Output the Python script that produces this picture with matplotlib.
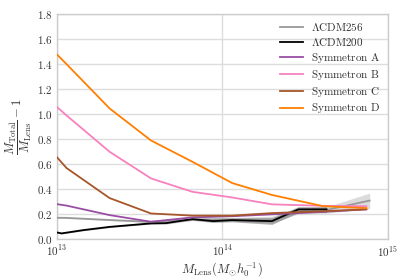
import matplotlib
matplotlib.use("Agg")
import matplotlib.pyplot as plt
import numpy as np
from matplotlib.ticker import FixedLocator, FuncFormatter, NullLocator

plt.rcParams['mathtext.fontset'] = 'cm'
plt.rcParams['font.family'] = ['DejaVu Serif']

# log10 masses
lcdm256_x = [13.0, 13.06, 13.32, 13.57, 13.82, 14.06, 14.30, 14.46, 14.63, 14.89]
lcdm256_y = [0.173, 0.172, 0.155, 0.140, 0.160, 0.160, 0.160, 0.225, 0.235, 0.310]
lcdm256_lo = [0.168, 0.167, 0.150, 0.133, 0.150, 0.145, 0.130, 0.205, 0.210, 0.245]
lcdm256_hi = [0.178, 0.177, 0.160, 0.147, 0.170, 0.175, 0.185, 0.250, 0.260, 0.370]

lcdm200_x = [13.0, 13.03, 13.16, 13.32, 13.57, 13.66, 13.82, 13.945, 14.06, 14.30, 14.46, 14.63]
lcdm200_y = [0.056, 0.048, 0.074, 0.100, 0.128, 0.130, 0.162, 0.146, 0.154, 0.146, 0.240, 0.240]
lcdm200_lo = [0.051, 0.043, 0.069, 0.095, 0.122, 0.123, 0.153, 0.135, 0.140, 0.120, 0.215, 0.215]
lcdm200_hi = [0.061, 0.053, 0.079, 0.105, 0.134, 0.137, 0.171, 0.157, 0.168, 0.172, 0.262, 0.262]

sym_x = [13.0, 13.06, 13.32, 13.57, 13.82, 14.06, 14.30, 14.61, 14.87]
symA_y = [0.282, 0.270, 0.194, 0.141, 0.176, 0.185, 0.200, 0.220, 0.240]
symB_y = [1.060, 0.990, 0.700, 0.487, 0.380, 0.335, 0.280, 0.268, 0.265]
symC_y = [0.660, 0.570, 0.330, 0.207, 0.190, 0.190, 0.210, 0.225, 0.240]
symD_y = [1.480, 1.400, 1.046, 0.790, 0.620, 0.450, 0.355, 0.265, 0.250]

labels = [r'$\Lambda\mathrm{CDM256}$', r'$\Lambda\mathrm{CDM200}$',
          r'$\mathrm{Symmetron\ A}$', r'$\mathrm{Symmetron\ B}$',
          r'$\mathrm{Symmetron\ C}$', r'$\mathrm{Symmetron\ D}$']
colors = ['#999999', '#000000', '#984ea3', '#f781bf', '#a65628', '#ff7f00']

fig = plt.figure(figsize=(4.07, 2.80), dpi=100)
ax = fig.add_axes([0.139, 0.145, 0.814, 0.805])
ax.set_xscale('log')

def m(xs):
    return 10 ** np.array(xs)

ax.fill_between(m(lcdm256_x), lcdm256_lo, lcdm256_hi, color='#999999', alpha=0.35, lw=0, zorder=2)
ax.fill_between(m(lcdm200_x), lcdm200_lo, lcdm200_hi, color='#555555', alpha=0.45, lw=0, zorder=2)
ax.plot(m(lcdm256_x), lcdm256_y, color=colors[0], lw=1.3, label=labels[0], zorder=3)
ax.plot(m(lcdm200_x), lcdm200_y, color=colors[1], lw=1.3, label=labels[1], zorder=3)
for ys, c, l in zip([symA_y, symB_y, symC_y, symD_y], colors[2:], labels[2:]):
    ax.plot(m(sym_x), ys, color=c, lw=1.3, label=l, zorder=3)

ax.set_xlim(1e13, 1e15)
ax.set_ylim(0, 1.8)
ax.xaxis.set_major_locator(FixedLocator([1e13, 1e14, 1e15]))
ax.xaxis.set_minor_locator(NullLocator())
ax.xaxis.set_major_formatter(FuncFormatter(lambda v, p: r'$10^{%d}$' % round(np.log10(v))))
ax.set_yticks(np.arange(0, 1.81, 0.2))
ax.yaxis.set_major_formatter(FuncFormatter(lambda v, p: r'$%.1f$' % v))
ax.tick_params(length=0, labelsize=8, colors='#333333', pad=3)
ax.grid(True, color='#dddddd', lw=1.0, zorder=0)
ax.set_axisbelow(True)
for s in ax.spines.values():
    s.set_color('#cccccc')
    s.set_linewidth(1.0)

ax.set_xlabel(r'$M_{\rm Lens} (M_{\odot} h_0^{-1})$', fontsize=9, color='#333333', labelpad=1)
ax.set_ylabel(r'$\dfrac{M_{\rm Total}}{M_{\rm Lens}} - 1$', fontsize=9, color='#333333', labelpad=2)

leg = ax.legend(loc='upper left', bbox_to_anchor=(280 / 407, (280 - 21) / 280),
                bbox_transform=fig.transFigure, fontsize=8, frameon=False,
                borderaxespad=0.0, borderpad=0.0, labelspacing=0.26,
                handlelength=2.1, handletextpad=0.7)
for t in leg.get_texts():
    t.set_color('#333333')

fig.savefig('out.png', dpi=100)
